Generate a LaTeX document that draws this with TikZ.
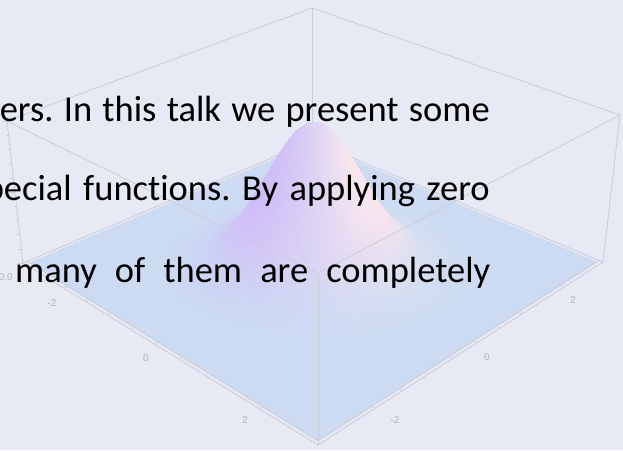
\documentclass[tikz,border=0pt]{standalone}
\usepackage{fontspec}
\setmainfont{Carlito}[Ligatures=NoCommon]
\newfontfamily\labfont{Liberation Sans}
\usepackage{pgfplots}
\pgfplotsset{compat=1.18}
\usetikzlibrary{calc}
\definecolor{bgc}{RGB}{231,234,244}
\definecolor{edgec}{RGB}{202,205,216}
\definecolor{labc}{RGB}{176,179,190}
\tikzset{
  boxedge/.style={draw=edgec, line width=0.8pt},
  tickmark/.style={draw=edgec, line width=0.6pt},
  ticklab/.style={text=labc, font=\labfont\fontsize{10}{10}\selectfont, inner sep=0pt},
  bodytext/.style={font=\fontsize{36.5}{40}\selectfont, text=black, inner sep=0pt}
}
\begin{document}
\begin{tikzpicture}[x=1pt,y=-1pt]
\useasboundingbox (0,0) rectangle (623,450);
\begin{scope}
\clip (0,0) rectangle (623,450);
\fill[bgc] (0,0) rectangle (623,450);
% box vertices
\coordinate (Tb) at (312,8);
\coordinate (Tl) at (7,121);
\coordinate (Tr) at (620,115);
\coordinate (Tf) at (318,273);
\coordinate (Bb) at (312,141);
\coordinate (Bl) at (23,263);
\coordinate (Br) at (603,262);
\coordinate (Bf) at (318,445);
% back edges
\draw[boxedge] (Tb) -- (Tl);
\draw[boxedge] (Tb) -- (Tr);
\draw[boxedge] (Tb) -- (Bb);
\draw[boxedge] (Bl) -- (Bb) -- (Br);
% surface
\begin{axis}[at={(0,0)}, anchor=north west, scale only axis,
  width=623pt, height=450pt, xmin=0, xmax=623, ymin=0, ymax=450, zmin=0, zmax=1,
  y dir=reverse, view={0}{90}, hide axis, clip=false, z buffer=none,
  declare function={
    ss(\a)=(\a+3)/6;
    gs(\a,\b)=exp(-(\a*\a+\b*\b));
    dn(\a,\b)=1-0.1968*ss(\a)+0.2065*ss(\b);
    scX(\a,\b)=(232.42*ss(\a)+353.43*ss(\b)+23)/dn(\a,\b);
    scY(\a,\b)=(94.42*ss(\a)-92.88*ss(\b)+263-140*gs(\a,\b))/dn(\a,\b);
    LL(\a,\b)=-0.0336*\b*(\a-315);
    LP(\a,\b)=max(0,min(1,LL(\a,\b)));
    LN(\a,\b)=max(0,min(1,-LL(\a,\b)));
    MM(\b)=min(1,3*\b);
    RR(\a,\b)=0.80+0.06*MM(\b)-0.05*LP(\a,\b)+0.12*LN(\a,\b);
    GG(\a,\b)=0.86-0.03*MM(\b)-0.09*LP(\a,\b)+0.08*LN(\a,\b);
    BB(\a,\b)=0.95+0.01*MM(\b)+0.01*LP(\a,\b)-0.03*LN(\a,\b);
  }]
\addplot3[surf, shader=interp, domain=-2.93:2.93, y domain=-2.93:2.93,
  samples=49, samples y=49,
  mesh/color input=explicit mathparse,
  point meta={symbolic={{RR(x,z)},{GG(x,z)},{BB(x,z)}}}]
  ({scX(x,-y)},{scY(x,-y)},{gs(x,-y)});
\end{axis}
% front edges
\draw[boxedge] (Tl) -- (Bl);
\draw[boxedge] (Tr) -- (Br);
\draw[boxedge] (Tf) -- (Bf);
\draw[boxedge] (Tl) -- (Tf);
\draw[boxedge] (Tr) -- (Tf);
\draw[boxedge] (Bl) -- (Bf) -- (Br);
\coordinate (Il) at (26.4,260.8);
\coordinate (If) at (318,440.8);
\coordinate (Ir) at (599.6,259.9);
\draw[boxedge] (Il) -- (If) -- (Ir);
% ticks on front-left edge
\foreach \v/\len in {-2.5/3,-2/6,-1.5/3,-1/3,-0.5/3,0/6,0.5/3,1/3,1.5/3,2/6,2.5/3} {
  \pgfmathsetmacro\ps{(\v+3)/6}
  \pgfmathsetmacro\pd{1-0.1968*\ps}
  \pgfmathsetmacro\px{(232.42*\ps+23)/\pd}
  \pgfmathsetmacro\py{(94.42*\ps+263)/\pd}
  \draw[tickmark] (\px,\py) -- ++({0.84*\len},{-0.54*\len});
}
% ticks on front-right edge
\foreach \v/\len in {-2.5/3,-2/6,-1.5/3,-1/3,-0.5/3,0/6,0.5/3,1/3,1.5/3,2/6,2.5/3} {
  \pgfmathsetmacro\ps{(\v+3)/6}
  \pgfmathsetmacro\pd{0.8032+0.2065*\ps}
  \pgfmathsetmacro\px{(255.42+353.43*\ps)/\pd}
  \pgfmathsetmacro\py{(357.42-92.88*\ps)/\pd}
  \draw[tickmark] (\px,\py) -- ++({-0.85*\len},{-0.52*\len});
}
% ticks on left vertical edge
\foreach \k/\len in {0/5,1/3,2/3,3/3,4/3,5/5,6/3,7/3,8/3,9/3,10/5} {
  \draw[tickmark] ($(Bl)!\k/10!(Tl)$) -- ++(-\len,0);
}
% tick labels
\node[ticklab] (xa) at (52,303) {-2};
\node[ticklab] (xb) at (146,358) {0};
\node[ticklab] (xc) at (245,420) {2};
\node[ticklab] (ya) at (395,420) {-2};
\node[ticklab] (yb) at (487,357) {0};
\node[ticklab] (yc) at (573,300) {2};
\node[ticklab, anchor=east] (za) at (13,277) {0.0};
% text
\node[bodytext, anchor=base east] (l1) at (490,121) {\hbox to 490pt{ers.\hfill In\hfill this\hfill talk\hfill we\hfill present\hfill some}};
\node[bodytext, anchor=base east] (l2) at (490,200) {\hbox to 505pt{pecial\hfill functions.\hfill By\hfill applying\hfill zero}};
\node[bodytext, anchor=base west] (l3) at (15,282) {\hbox to 475pt{many\hfill of\hfill them\hfill are\hfill completely}};
\end{scope}
\end{tikzpicture}
\end{document}
